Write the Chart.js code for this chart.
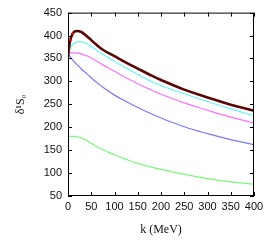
<!DOCTYPE html>
<html><head><meta charset="utf-8">
<script src="https://cdn.jsdelivr.net/npm/chart.js@4/dist/chart.umd.min.js"></script>
<style>html,body{margin:0;padding:0;background:#fff}#w{width:275px;height:245px}</style>
</head><body><div id="w"><canvas id="c"></canvas></div>
<script>
const kValues = [0,2,5,10,15,20,25,30,40,50,60,75,100,125,150,175,200,250,300,350,400];
const darkSeries    = [355,372,390,404,409,410,409,407,399,390,381,369,355,341,328,315,303,282,265,249,236];
const cyanSeries    = [360,366,373,380,384,386,387,386,382,376,369,359,344,329,315,302,291,273,256,240,225];
const magentaSeries = [361,361.5,362,362,362,362,361,359,356,351,345,336,322,308,295,283,272,253,237,222,209];
const blueSeries    = [361,358,353,347,341,336,331,326,317,308,299,287,270,256,243,231,220,201,186,173,162];
const greenSeries   = [180,180,180,180,180,179,178,176,171,165,159,151,140,130,121,114,108,97,88,81,76];
const xTicks = [0,50,100,150,200,250,300,350,400];
const yTicks = [50,100,150,200,250,300,350,400,450];

const pts = s => kValues.map((k,i)=>({x:k,y:s[i]}));
const mk = (data,color,w) => ({data:pts(data),borderColor:color,backgroundColor:color,borderWidth:w,pointRadius:0,tension:0.4,fill:false});

const dark = mk(darkSeries,'#5a0505',2.6);
dark.pointRadius = ctx => (ctx.raw && ctx.raw.x <= 10) ? 1.3 : 0;
dark.pointBackgroundColor = '#d01010';
dark.pointBorderWidth = 0;

const frame = {
  id:'frame',
  afterDraw(chart){
    const {ctx,chartArea:a,scales} = chart;
    ctx.save();
    ctx.strokeStyle='#000';ctx.lineWidth=1;
    ctx.strokeRect(a.left+0.5,a.top+0.5,a.right-a.left-1,a.bottom-a.top-1);
    ctx.beginPath();
    xTicks.forEach(v=>{const p=Math.round(scales.x.getPixelForValue(v))+0.5;
      ctx.moveTo(p,a.bottom);ctx.lineTo(p,a.bottom-4);ctx.moveTo(p,a.top);ctx.lineTo(p,a.top+4);});
    yTicks.forEach(v=>{const p=Math.round(scales.y.getPixelForValue(v))+0.5;
      ctx.moveTo(a.left,p);ctx.lineTo(a.left+4,p);ctx.moveTo(a.right,p);ctx.lineTo(a.right-4,p);});
    ctx.stroke();
    ctx.restore();
  }
};

new Chart(document.getElementById('c'),{
  type:'line',
  data:{datasets:[dark,mk(cyanSeries,'#66f6f6',1.2),mk(magentaSeries,'#ff70ff',1.2),mk(blueSeries,'#7878ff',1.2),mk(greenSeries,'#78f878',1.2)]},
  options:{
    responsive:true,maintainAspectRatio:false,animation:false,
    layout:{padding:{left:14,right:21,top:10,bottom:0}},
    plugins:{legend:{display:false},tooltip:{enabled:false}},
    scales:{
      x:{type:'linear',min:0,max:400,
        afterBuildTicks:s=>{s.ticks=xTicks.map(v=>({value:v}));},
        afterFit:s=>{s.height=49;},
        grid:{display:false,drawTicks:false},border:{display:false},
        ticks:{padding:4,maxRotation:0,color:'#111',font:{family:'Liberation Sans',size:11}},
        title:{display:true,text:'k (MeV)',color:'#111',font:{family:'Liberation Serif',size:12},padding:{top:0,bottom:8}}},
      y:{type:'linear',min:50,max:450,
        afterBuildTicks:s=>{s.ticks=yTicks.map(v=>({value:v}));},
        afterFit:s=>{s.width=54;},
        grid:{display:false,drawTicks:false},border:{display:false},
        ticks:{padding:6,color:'#111',font:{family:'Liberation Sans',size:11}},
        title:{display:true,text:'δ¹S₀',color:'#111',font:{family:'Liberation Serif',size:12},padding:0}}
    }
  },
  plugins:[frame]
});
</script></body></html>
